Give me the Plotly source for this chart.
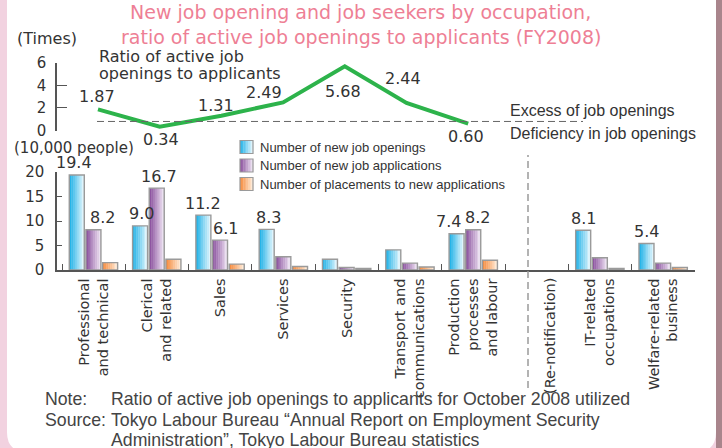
import plotly.graph_objects as go

W, H = 722, 448

# ---------------- data ----------------
categories = ["Professional<br>and technical", "Clerical<br>and related", "Sales", "Services",
              "Security", "Transport and<br>communications", "Production<br>processes<br>and labour",
              "(Re-notification)", "IT-related<br>occupations", "Welfare-related<br>business"]
new_openings = [19.4, 9.0, 11.2, 8.3, 2.2, 4.1, 7.4, None, 8.1, 5.4]
new_applications = [8.2, 16.7, 6.1, 2.7, 0.5, 1.4, 8.2, None, 2.5, 1.4]
placements = [1.5, 2.2, 1.2, 0.7, 0.3, 0.6, 2.0, None, 0.3, 0.5]

ratio_categories = categories[:7]
ratio_values = [1.87, 0.34, 1.31, 2.49, 5.68, 2.44, 0.60]

bar_ticks = [0, 5, 10, 15, 20]
ratio_ticks = [0, 2, 4, 6]

series_names = ["Number of new job openings", "Number of new job applications",
                "Number of placements to new applications"]

TXT = "#333333"
AX = "#555555"
SANS = "DejaVu Sans"
NARROW = "Liberation Sans, Arial"


def px(x):
    return x / W


def py(y):
    return 1 - y / H


def lerp(c0, c1, t):
    return "rgb(%d,%d,%d)" % tuple(round(a + (b - a) * t) for a, b in zip(c0, c1))


grads = [((25, 175, 230), (236, 249, 254)),
         ((135, 75, 155), (242, 234, 246)),
         ((245, 135, 55), (255, 240, 224))]
offsets = [-0.385, -0.122, 0.142]
BW = 0.237
NS = 8
X_RANGE = [-0.579, 9.5]
X_DOMAIN_PX = (57, 695)
SLOT_PX = (X_DOMAIN_PX[1] - X_DOMAIN_PX[0]) / (X_RANGE[1] - X_RANGE[0])

fig = go.Figure()

# ---------------- bars with gradient slices ----------------
for vals, (c0, c1), off in zip([new_openings, new_applications, placements], grads, offsets):
    for i in range(NS):
        t = (i + 0.5) / NS
        wdt = BW / NS + (0.006 if i < NS - 1 else 0)
        fig.add_trace(go.Bar(x=categories, y=vals, offset=off + i * BW / NS, width=wdt,
                             marker=dict(color=lerp(c0, c1, t), line=dict(width=0)),
                             hoverinfo="skip", showlegend=False, xaxis="x", yaxis="y"))
    fig.add_trace(go.Bar(x=categories, y=vals, offset=off, width=BW,
                         marker=dict(color="rgba(0,0,0,0)", line=dict(color="#9a9a9a", width=1.4)),
                         showlegend=False, xaxis="x", yaxis="y"))

# ---------------- ratio line ----------------
fig.add_trace(go.Scatter(x=ratio_categories, y=ratio_values, mode="lines",
                         line=dict(color="#2db34b", width=4), xaxis="x2", yaxis="y2",
                         showlegend=False, cliponaxis=False))

ann = []
shapes = []

# line value labels (offset in px relative to points)
line_lbl_shift = [(-1, 13), (1, -13), (-5, 10), (-19, 10), (-2, -25), (-3, 24), (-2, -13)]
for c, v, (dx, dy) in zip(ratio_categories, ratio_values, line_lbl_shift):
    ann.append(dict(x=c, y=v, xref="x2", yref="y2", text="%.2f" % v, showarrow=False,
                    xanchor="center", yanchor="middle",
                    xshift=dx, yshift=dy, font=dict(family=SANS, size=16, color=TXT)))

# bar value labels: (series index, category index, xshift)
bar_labels = [(0, 0, -3), (1, 0, 9), (0, 1, 1), (1, 1, 2), (0, 2, 0), (1, 2, 5),
              (0, 3, 2), (0, 6, -8), (1, 6, 4), (0, 8, 0), (0, 9, 0)]
all_series = [new_openings, new_applications, placements]
for s, k, dx in bar_labels:
    v = all_series[s][k]
    ann.append(dict(x=categories[k], y=v, xref="x", yref="y", text="%.1f" % v,
                    showarrow=False, xshift=(offsets[s] + BW / 2) * SLOT_PX + dx, yshift=12,
                    xanchor="center", yanchor="middle",
                    font=dict(family=SANS, size=16, color=TXT)))


def label(x, y, text, font, xanchor="left", **kw):
    d = dict(x=px(x), y=py(y), xref="paper", yref="paper", showarrow=False, text=text,
             xanchor=xanchor, yanchor="middle", font=font)
    d.update(kw)
    return d


# ---------------- text ----------------
PINK = "#ee7f95"
ann += [
    label(360, 12, "New job opening and job seekers by occupation,", dict(family=SANS, size=19, color=PINK),
          xanchor="center"),
    label(361, 37, "ratio of active job openings to applicants (FY2008)", dict(family=SANS, size=19, color=PINK),
          xanchor="center"),
    label(15, 38, "(Times)", dict(family=SANS, size=16, color=TXT)),
    label(97, 57, "Ratio of active job", dict(family=SANS, size=16, color=TXT)),
    label(97, 73, "openings to applicants", dict(family=SANS, size=16, color=TXT)),
    label(12, 148, "(10,000 people)", dict(family=SANS, size=15, color=TXT)),
    label(508, 110, "Excess of job openings", dict(family=NARROW, size=16, color=TXT)),
    label(508, 133, "Deficiency in job openings", dict(family=NARROW, size=16, color=TXT)),
    dict(x=px(550), y=py(276), xref="paper", yref="paper", showarrow=False, xanchor="center",
         yanchor="top", textangle=-90, text="(Re-notification)", font=dict(family=SANS, size=14.5, color=TXT)),
]

NOTE = "#444444"
notes = [(43, 399, "Note:"), (109, 399, "Ratio of active job openings to applicants for October 2008 utilized"),
         (43, 420, "Source:"), (109, 420, "Tokyo Labour Bureau \u201cAnnual Report on Employment Security"),
         (109, 440, "Administration\u201d, Tokyo Labour Bureau statistics")]
for x, y, t in notes:
    ann.append(label(x, y, t, dict(family=NARROW, size=17.7, color=NOTE)))

# legend (manual)
leg_rows = [147, 165.5, 184]
for name, (c0, c1), yc in zip(series_names, grads, leg_rows):
    x0, x1 = 240, 253
    for i in range(NS):
        t = (i + 0.5) / NS
        shapes.append(dict(type="rect", xref="paper", yref="paper",
                           x0=px(x0 + (x1 - x0) * i / NS), x1=px(x0 + (x1 - x0) * (i + 1.2) / NS),
                           y0=py(yc + 6.5), y1=py(yc - 6.5), fillcolor=lerp(c0, c1, t), line=dict(width=0)))
    shapes.append(dict(type="rect", xref="paper", yref="paper", x0=px(x0), x1=px(x1),
                       y0=py(yc + 6.5), y1=py(yc - 6.5), line=dict(color="#9a9a9a", width=1.2)))
    ann.append(label(258, yc, name, dict(family=NARROW, size=13, color=TXT)))

# background panel
bg_shapes = [
    dict(type="rect", xref="paper", yref="paper", x0=px(716), x1=1, y0=0, y1=1,
         fillcolor="#a9858c", line=dict(width=0), layer="below"),
    dict(type="path", xref="paper", yref="paper", layer="below", fillcolor="white", line=dict(width=0),
         path="M %f,%f L %f,%f L %f,%f Q %f,%f %f,%f L %f,%f Q %f,%f %f,%f Z" % (
             px(7), py(-10), px(716), py(-10), px(716), py(432), px(716), py(452), px(696), py(452),
             px(27), py(452), px(7), py(452), px(7), py(432))),
]

# reference dashed line (ratio boundary) and separator
shapes += [
    dict(type="line", xref="paper", yref="y2", x0=px(97), x1=px(583), y0=0.8, y1=0.8,
         line=dict(color="#666666", width=1, dash="7px,4px")),
    dict(type="line", xref="paper", yref="paper", x0=px(528), x1=px(528), y0=py(388), y1=py(155),
         line=dict(color="#9a9a9a", width=1.5, dash="7px,4px")),
]

fig.update_layout(
    template="none",
    width=W, height=H, margin=dict(l=0, r=0, t=0, b=0, pad=0, autoexpand=False),
    paper_bgcolor="#f2d2e0", plot_bgcolor="rgba(0,0,0,0)",
    showlegend=False, barmode="overlay",
    font=dict(family=SANS, color=TXT),
    annotations=ann, shapes=bg_shapes + shapes,
    xaxis=dict(domain=[px(X_DOMAIN_PX[0]), px(X_DOMAIN_PX[1])], type="category", categoryorder="array",
               categoryarray=categories,
               range=X_RANGE, showline=True, linecolor=AX, linewidth=1.5,
               ticks="inside", ticklen=6, tickcolor=AX, tickson="boundaries",
               tickmode="array", tickvals=categories,
               ticktext=[c if c != "(Re-notification)" else "" for c in categories],
               tickangle=-90, tickfont=dict(family=SANS, size=14.5, color=TXT),
               ticklabelstandoff=1, showgrid=False, zeroline=False, anchor="y", fixedrange=True,
               automargin=False),
    yaxis=dict(domain=[py(270), py(172)], range=[0, 20], tickmode="array", tickvals=bar_ticks,
               showline=True, linecolor=AX, linewidth=1.5, ticks="inside", ticklen=5, tickcolor=AX,
               tickfont=dict(family=SANS, size=15, color=TXT), ticklabelstandoff=8,
               showgrid=False, zeroline=False, anchor="x", fixedrange=True, automargin=False),
    xaxis2=dict(domain=[px(X_DOMAIN_PX[0]), px(X_DOMAIN_PX[1])], type="category", categoryorder="array",
                categoryarray=categories,
                range=[-0.664, 9.676], visible=False, anchor="y2", fixedrange=True, automargin=False),
    yaxis2=dict(domain=[py(130.5), py(62.7)], range=[0, 6], tickmode="array", tickvals=ratio_ticks,
                showline=True, linecolor=AX, linewidth=1.5, ticks="inside", ticklen=10, tickcolor=AX,
                tickfont=dict(family=SANS, size=15, color=TXT), ticklabelstandoff=6,
                showgrid=False, zeroline=False, anchor="x", fixedrange=True, automargin=False),
)

fig.write_html("out.html", config={"displayModeBar": False},
               post_script="document.body.style.margin='0';document.body.style.background='#f2d2e0';")
